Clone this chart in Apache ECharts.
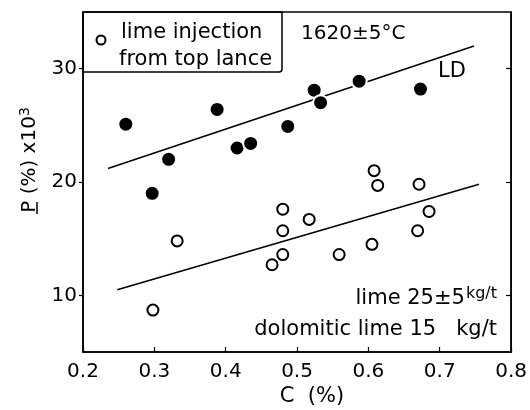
<!DOCTYPE html>
<html>
<head>
<meta charset="utf-8">
<script src="https://cdn.jsdelivr.net/npm/echarts@6/dist/echarts.min.js"></script>
<style>
  html, body { margin: 0; padding: 0; background: #fff; }
  #main { width: 530px; height: 410px; }
</style>
</head>
<body>
<div id="main"></div>
<script>
// LD (filled points): [C %, P x10^3]
var ldPoints = [
  [0.260, 25.1], [0.297, 19.0], [0.320, 22.0], [0.388, 26.4],
  [0.416, 23.0], [0.435, 23.4], [0.487, 24.9], [0.524, 28.1],
  [0.533, 27.0], [0.587, 28.9], [0.673, 28.2]
];
// lime injection from top lance (open circles)
var lancePoints = [
  [0.298, 8.7], [0.332, 14.8], [0.465, 12.7], [0.480, 13.6],
  [0.480, 15.7], [0.480, 17.6], [0.517, 16.7], [0.559, 13.6],
  [0.605, 14.5], [0.608, 21.0], [0.613, 19.7], [0.669, 15.7],
  [0.671, 19.8], [0.685, 17.4]
];
// regression lines (end points)
var ldLine = [[0.235, 21.2], [0.748, 32.0]];
var lanceLine = [[0.248, 10.5], [0.755, 19.8]];

var xTicks = [0.2, 0.3, 0.4, 0.5, 0.6, 0.7, 0.8];
var yTicks = [10, 20, 30];

var FONT = 'DejaVu Sans';

var myChart = echarts.init(document.getElementById('main'));

var option = {
  backgroundColor: '#fff',
  animation: false,
  grid: {
    left: 83, right: 16, top: 12, bottom: 58,
    show: true, borderColor: '#000', borderWidth: 1.5
  },
  xAxis: {
    type: 'value',
    min: 0.2, max: 0.8, interval: 0.1,
    axisLine: { lineStyle: { color: '#000', width: 1.5 } },
    axisTick: { inside: true, length: 5, lineStyle: { color: '#000', width: 1.2 } },
    splitLine: { show: false },
    axisLabel: {
      margin: 10,
      color: '#000', fontSize: 20, fontFamily: FONT,
      formatter: function (v) { return v.toFixed(1); }
    }
  },
  yAxis: [
    {
      type: 'value',
      min: 5, max: 35,
      axisLine: { show: true, lineStyle: { color: '#000', width: 1.5 } },
      axisTick: { show: true, length: 4, customValues: yTicks, lineStyle: { color: '#000', width: 1.2 } },
      splitLine: { show: false },
      axisLabel: {
        margin: 6, customValues: yTicks,
        color: '#000', fontSize: 20, fontFamily: FONT
      }
    },
    {
      type: 'value', position: 'right',
      min: 5, max: 35,
      axisLine: { show: true, lineStyle: { color: '#000', width: 1.5 } },
      axisTick: { show: true, inside: true, length: 5, customValues: yTicks, lineStyle: { color: '#000', width: 1.2 } },
      splitLine: { show: false },
      axisLabel: { show: false }
    }
  ],
  series: [
    {
      type: 'line', data: ldLine, symbol: 'none', z: 1,
      lineStyle: { color: '#000', width: 1.6 }
    },
    {
      type: 'line', data: lanceLine, symbol: 'none', z: 1,
      lineStyle: { color: '#000', width: 1.6 }
    },
    {
      type: 'scatter', data: ldPoints, symbolSize: 15, z: 3,
      itemStyle: { color: '#000', borderColor: '#fff', borderWidth: 2, opacity: 1 }
    },
    {
      type: 'scatter', data: lancePoints, symbolSize: 11, z: 3,
      itemStyle: { color: '#fff', borderColor: '#000', borderWidth: 2, opacity: 1 }
    }
  ],
  graphic: [
    // legend box
    {
      type: 'rect', z: 10,
      shape: { x: 83, y: 12, width: 199, height: 60, r: [0, 0, 3, 0] },
      style: { fill: 'none', stroke: '#000', lineWidth: 1.5 }
    },
    {
      type: 'circle', z: 10,
      shape: { cx: 101, cy: 40, r: 4.5 },
      style: { fill: '#fff', stroke: '#000', lineWidth: 2 }
    },
    {
      type: 'text', z: 10, x: 121, y: 43,
      style: { text: 'lime injection', font: '21px ' + FONT, fill: '#000', textVerticalAlign: 'bottom' }
    },
    {
      type: 'text', z: 10, x: 119, y: 70,
      style: { text: 'from top lance', font: '21px ' + FONT, fill: '#000', textVerticalAlign: 'bottom' }
    },
    {
      type: 'text', z: 10, x: 301, y: 44,
      style: { text: '1620±5°C', font: '20px ' + FONT, fill: '#000', textVerticalAlign: 'bottom' }
    },
    {
      type: 'text', z: 10, x: 438, y: 82,
      style: { text: 'LD', font: '21px ' + FONT, fill: '#000', textVerticalAlign: 'bottom' }
    },
    {
      type: 'text', z: 10, x: 497, y: 311,
      style: {
        text: '{a|lime 25±5}{b|kg/t}',
        textAlign: 'right', textVerticalAlign: 'bottom',
        rich: {
          a: { fontSize: 21, fontFamily: FONT, color: '#000' },
          b: { fontSize: 16, fontFamily: FONT, color: '#000', padding: [0, 0, 9, 1] }
        }
      }
    },
    {
      type: 'text', z: 10, x: 497, y: 340,
      style: {
        text: 'dolomitic lime 15   kg/t', font: '21px ' + FONT, fill: '#000',
        textAlign: 'right', textVerticalAlign: 'bottom'
      }
    },
    // axis names
    {
      type: 'text', z: 10, x: 312, y: 397,
      style: { text: 'C  (%)', font: '21px ' + FONT, fill: '#000', textAlign: 'center', textVerticalAlign: 'middle' }
    },
    {
      type: 'text', z: 10, x: 30, y: 160, rotation: Math.PI / 2,
      style: {
        text: '{a|P (%) x10}{b|3}',
        textAlign: 'center', textVerticalAlign: 'middle',
        rich: {
          a: { fontSize: 20, fontFamily: FONT, color: '#000' },
          b: { fontSize: 14, fontFamily: FONT, color: '#000', padding: [0, 0, 10, 0] }
        }
      }
    },
    {
      type: 'line', z: 10,
      shape: { x1: 37, y1: 202, x2: 37, y2: 214 },
      style: { stroke: '#000', lineWidth: 1.5 }
    }
  ]
};

myChart.setOption(option);
</script>
</body>
</html>
